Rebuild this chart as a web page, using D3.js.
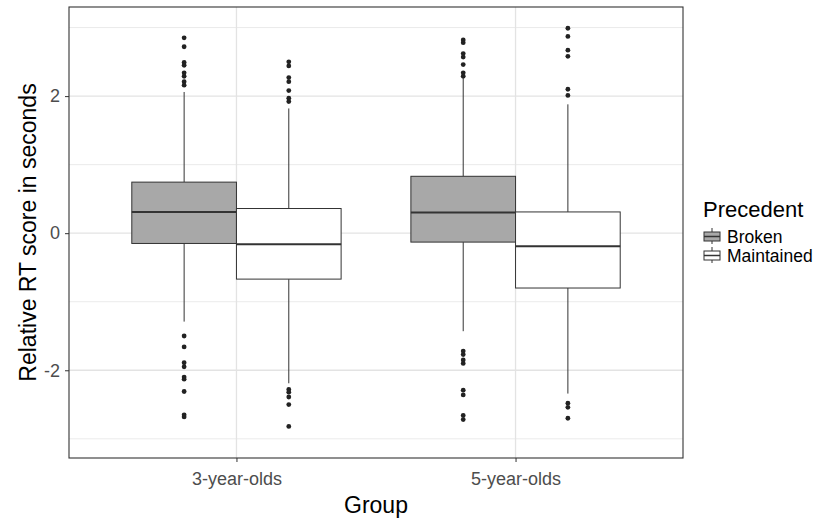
<!doctype html>
<html>
<head>
<meta charset="utf-8">
<script src="https://cdnjs.cloudflare.com/ajax/libs/d3/7.8.5/d3.min.js"></script>
<style>
  body { margin: 0; background: white; }
  svg { font-family: "Liberation Sans", Arial, sans-serif; }
</style>
</head>
<body>
<svg width="814" height="521"></svg>
<script>
// groups and legend levels
const groups = ["3-year-olds", "5-year-olds"];
const precedents = ["Broken", "Maintained"];
const fills = ["#a8a8a8", "#ffffff"];
const yTicks = [-2, 0, 2];

// box stats per group x precedent: [lowerWhisker, q1, median, q3, upperWhisker]
const stats3Broken = [-1.29, -0.15, 0.31, 0.745, 2.06];
const stats3Maint = [-2.19, -0.67, -0.16, 0.36, 1.82];
const stats5Broken = [-1.43, -0.13, 0.30, 0.83, 2.26];
const stats5Maint = [-2.34, -0.80, -0.19, 0.31, 1.88];

// outliers
const out3Broken = [2.85, 2.72, 2.49, 2.45, 2.34, 2.29, 2.21, 2.16,
  -1.50, -1.66, -1.89, -1.95, -2.10, -2.13, -2.31, -2.65, -2.68];
const out3Maint = [2.50, 2.44, 2.27, 2.21, 2.08, 1.97, 1.92,
  -2.28, -2.32, -2.39, -2.50, -2.82];
const out5Broken = [2.82, 2.78, 2.62, 2.57, 2.46, 2.34, 2.29,
  -1.72, -1.77, -1.85, -1.90, -2.29, -2.36, -2.66, -2.72];
const out5Maint = [2.99, 2.87, 2.67, 2.58, 2.10, 2.01,
  -2.48, -2.54, -2.70];

const boxes = [
  {group: groups[0], prec: precedents[0], s: stats3Broken, out: out3Broken},
  {group: groups[0], prec: precedents[1], s: stats3Maint, out: out3Maint},
  {group: groups[1], prec: precedents[0], s: stats5Broken, out: out5Broken},
  {group: groups[1], prec: precedents[1], s: stats5Maint, out: out5Maint}
];

const svg = d3.select("svg");
const pLeft = 69, pRight = 683, pTop = 7, pBottom = 458;

const y = d3.scaleLinear().domain([-3.28, 3.30]).range([pBottom, pTop]);
// discrete axis with 0.6 expansion on each side, like ggplot
const unit = (pRight - pLeft) / 2.2;
const cx = d3.scalePoint().domain(groups).range([pLeft + 0.6 * unit, pLeft + 1.6 * unit]);
const dodge = d3.scaleBand().domain(precedents).range([-0.375 * unit, 0.375 * unit]);
const color = d3.scaleOrdinal().domain(precedents).range(fills);

// grid
const g = svg.append("g");
const minor = [-3, -1, 1, 3];
g.selectAll(".minor").data(minor).enter().append("line")
  .attr("x1", pLeft).attr("x2", pRight)
  .attr("y1", d => y(d)).attr("y2", d => y(d))
  .attr("stroke", "#ebebeb").attr("stroke-width", 1);
g.selectAll(".major").data(yTicks).enter().append("line")
  .attr("x1", pLeft).attr("x2", pRight)
  .attr("y1", d => y(d)).attr("y2", d => y(d))
  .attr("stroke", "#e3e3e3").attr("stroke-width", 1.3);
g.selectAll(".vmajor").data(groups).enter().append("line")
  .attr("x1", d => cx(d)).attr("x2", d => cx(d))
  .attr("y1", pTop).attr("y2", pBottom)
  .attr("stroke", "#e3e3e3").attr("stroke-width", 1.3);

// boxes
const b = svg.append("g").selectAll("g").data(boxes).enter().append("g")
  .attr("transform", d => `translate(${cx(d.group) + dodge(d.prec)},0)`);
const bw = dodge.bandwidth();
b.append("line").attr("x1", bw / 2).attr("x2", bw / 2)
  .attr("y1", d => y(d.s[4])).attr("y2", d => y(d.s[3]))
  .attr("stroke", "#333").attr("stroke-width", 1);
b.append("line").attr("x1", bw / 2).attr("x2", bw / 2)
  .attr("y1", d => y(d.s[1])).attr("y2", d => y(d.s[0]))
  .attr("stroke", "#333").attr("stroke-width", 1);
b.append("rect").attr("x", 0).attr("width", bw)
  .attr("y", d => y(d.s[3])).attr("height", d => y(d.s[1]) - y(d.s[3]))
  .attr("fill", d => color(d.prec)).attr("stroke", "#333").attr("stroke-width", 1);
b.append("line").attr("x1", 0).attr("x2", bw)
  .attr("y1", d => y(d.s[2])).attr("y2", d => y(d.s[2]))
  .attr("stroke", "#333").attr("stroke-width", 2);
b.selectAll("circle").data(d => d.out).enter().append("circle")
  .attr("cx", bw / 2).attr("cy", d => y(d)).attr("r", 2.4)
  .attr("fill", "#222");

// panel border
svg.append("rect").attr("x", pLeft).attr("y", pTop)
  .attr("width", pRight - pLeft).attr("height", pBottom - pTop)
  .attr("fill", "none").attr("stroke", "#333").attr("stroke-width", 1.1);

// axes
const ya = svg.append("g").attr("transform", `translate(${pLeft},0)`)
  .call(d3.axisLeft(y).tickValues(yTicks).tickSize(4).tickPadding(5).tickFormat(d => String(d)));
ya.select(".domain").remove();
ya.selectAll("line").attr("stroke", "#333");
ya.selectAll("text").attr("font-size", 18).attr("fill", "#4d4d4d")
  .attr("font-family", "Liberation Sans, Arial, sans-serif");

const xa = svg.append("g").attr("transform", `translate(0,${pBottom})`)
  .call(d3.axisBottom(cx).tickSize(4).tickPadding(10));
xa.select(".domain").remove();
xa.selectAll("line").attr("stroke", "#333");
xa.selectAll("text").attr("font-size", 18).attr("fill", "#4d4d4d")
  .attr("font-family", "Liberation Sans, Arial, sans-serif");

// axis titles
svg.append("text").attr("x", (pLeft + pRight) / 2).attr("y", 513)
  .attr("text-anchor", "middle").attr("font-size", 23).attr("fill", "#000")
  .text("Group");
svg.append("text").attr("transform", `translate(36,${(pTop + pBottom) / 2}) rotate(-90)`)
  .attr("text-anchor", "middle").attr("font-size", 23).attr("fill", "#000")
  .text("Relative RT score in seconds");

// legend
const lg = svg.append("g").attr("transform", "translate(703,0)");
lg.append("text").attr("x", 0).attr("y", 217).attr("font-size", 22).text("Precedent");
const items = lg.selectAll(".item").data(precedents).enter().append("g")
  .attr("transform", (d, i) => `translate(0,${228 + i * 19})`);
items.append("line").attr("x1", 9).attr("x2", 9).attr("y1", 0).attr("y2", 16)
  .attr("stroke", "#333");
items.append("rect").attr("x", 1).attr("y", 4).attr("width", 16).attr("height", 9)
  .attr("fill", d => color(d)).attr("stroke", "#333");
items.append("line").attr("x1", 1).attr("x2", 17).attr("y1", 8.5).attr("y2", 8.5)
  .attr("stroke", "#333").attr("stroke-width", 1.5);
items.append("text").attr("x", 24).attr("y", 15).attr("font-size", 17.5).text(d => d);
</script>
</body>
</html>
